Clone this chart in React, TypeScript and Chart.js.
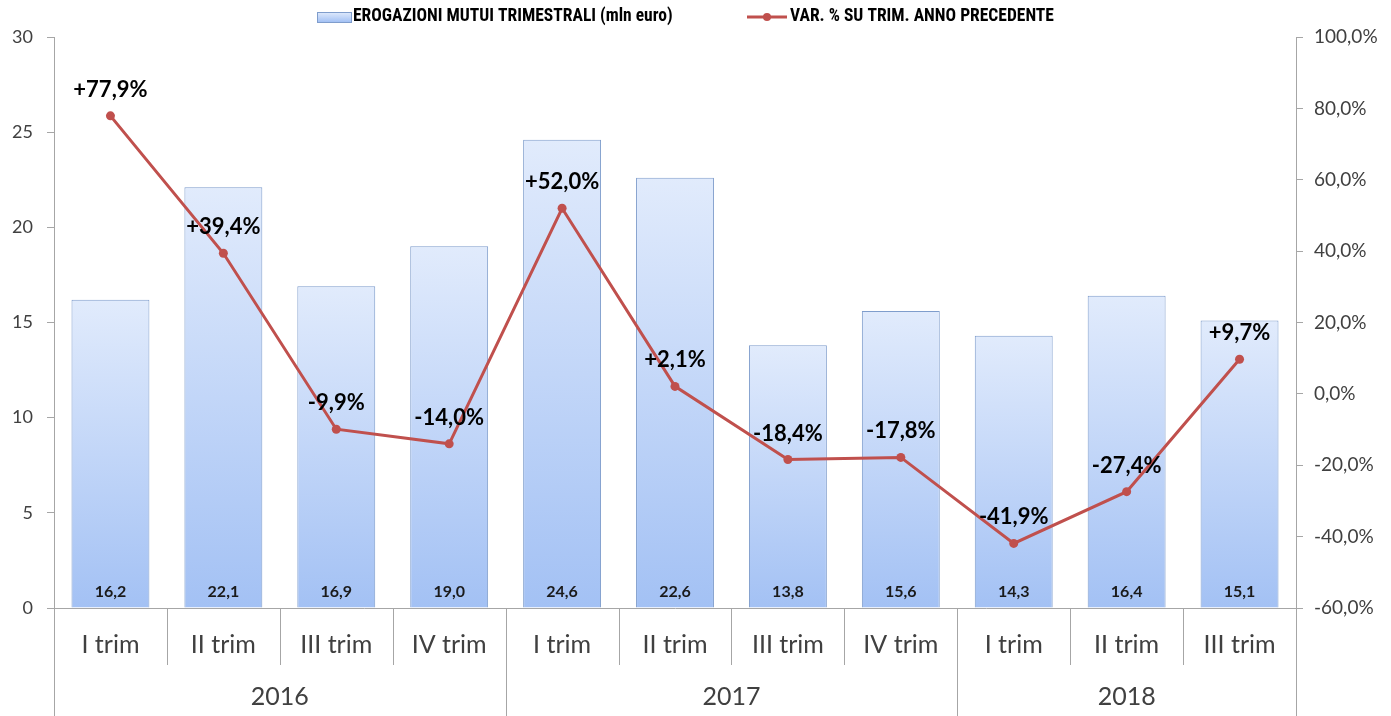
import React, { useEffect, useRef } from "react";
import { Chart, registerables } from "chart.js";

Chart.register(...registerables);

const categories = ["I trim", "II trim", "III trim", "IV trim", "I trim", "II trim", "III trim", "IV trim", "I trim", "II trim", "III trim"];
const years = ["2016", "2017", "2018"];
const yearSpans = [4, 4, 3];
const erogazioni = [16.2, 22.1, 16.9, 19.0, 24.6, 22.6, 13.8, 15.6, 14.3, 16.4, 15.1];
const variazione = [77.9, 39.4, -9.9, -14.0, 52.0, 2.1, -18.4, -17.8, -41.9, -27.4, 9.7];
const barLegend = "EROGAZIONI MUTUI TRIMESTRALI (mln euro)";
const lineLegend = "VAR. % SU TRIM. ANNO PRECEDENTE";

const FONT = "Lato, 'Open Sans', sans-serif";
const LEGEND_FONT = "'Liberation Sans Narrow', 'Roboto Condensed', Lato, sans-serif";
const RED = "#C0504D";
const AXIS = "#a6a6a6";
const TEXT = "#404040";
const BAR_TOP = "#e1ebfc";
const BAR_BOTTOM = "#a3c1f4";
const BAR_BORDER = "#7f9dcc";

const fmt = (v: number, dec = 1) => v.toFixed(dec).replace(".", ",");

const overlay = {
  id: "overlay",
  afterDraw(chart: any) {
    const { ctx, chartArea, scales } = chart;
    const x = scales.x;
    const n = categories.length;
    ctx.save();
    // bar value labels
    const barMeta = chart.getDatasetMeta(1);
    ctx.font = `bold 16px ${FONT}`;
    ctx.fillStyle = "#1a1a1a";
    ctx.textAlign = "center";
    ctx.textBaseline = "middle";
    barMeta.data.forEach((el: any, i: number) => {
      ctx.fillText(fmt(erogazioni[i]), el.x, chartArea.bottom - 16);
    });
    // line labels
    const lineMeta = chart.getDatasetMeta(0);
    ctx.font = `bold 22px ${FONT}`;
    ctx.fillStyle = "#000";
    lineMeta.data.forEach((el: any, i: number) => {
      const v = variazione[i];
      const s = (v > 0 ? "+" : "") + fmt(v) + "%";
      ctx.fillText(s, el.x, el.y - 26);
    });
    // separators
    const bounds: number[] = [];
    for (let i = 0; i <= n; i++) {
      if (i === 0) bounds.push(chartArea.left);
      else if (i === n) bounds.push(chartArea.right);
      else bounds.push((x.getPixelForValue(i - 1) + x.getPixelForValue(i)) / 2);
    }
    const yearIdx = new Set<number>([0]);
    let acc = 0;
    yearSpans.forEach((s) => { acc += s; yearIdx.add(acc); });
    ctx.strokeStyle = AXIS;
    ctx.lineWidth = 1;
    bounds.forEach((bx, i) => {
      const px = Math.round(bx) + 0.5;
      ctx.beginPath();
      ctx.moveTo(px, chartArea.bottom);
      ctx.lineTo(px, yearIdx.has(i) ? chart.height : chartArea.bottom + 57);
      ctx.stroke();
    });
    // year labels
    ctx.font = `25px ${FONT}`;
    ctx.fillStyle = TEXT;
    let start = 0;
    years.forEach((yr, k) => {
      const end = start + yearSpans[k];
      const cx = (bounds[start] + bounds[end]) / 2;
      ctx.fillText(yr, cx, 697);
      start = end;
    });
    // legend
    ctx.font = `bold 17.5px ${LEGEND_FONT}`;
    ctx.textAlign = "left";
    const ly = 17;
    let lx = 317;
    const g = ctx.createLinearGradient(0, ly - 5, 0, ly + 5);
    g.addColorStop(0, BAR_TOP);
    g.addColorStop(1, BAR_BOTTOM);
    ctx.fillStyle = g;
    ctx.fillRect(lx, ly - 5, 34, 10);
    ctx.strokeStyle = BAR_BORDER;
    ctx.lineWidth = 1;
    ctx.strokeRect(lx + 0.5, ly - 4.5, 34, 10);
    ctx.fillStyle = "#000";
    ctx.fillText(barLegend, lx + 36, ly);
    lx = 747;
    ctx.strokeStyle = RED;
    ctx.lineWidth = 3;
    ctx.beginPath();
    ctx.moveTo(lx, ly);
    ctx.lineTo(lx + 40, ly);
    ctx.stroke();
    ctx.fillStyle = RED;
    ctx.beginPath();
    ctx.arc(lx + 20, ly, 4, 0, Math.PI * 2);
    ctx.fill();
    ctx.fillStyle = "#000";
    ctx.fillText(lineLegend, lx + 43, ly);
    ctx.restore();
  },
};

export default function App() {
  const ref = useRef<HTMLCanvasElement>(null);
  useEffect(() => {
    document.body.style.margin = "0";
    const canvas = ref.current!;
    const chart = new Chart(canvas, {
      type: "bar",
      data: {
        labels: categories,
        datasets: [
          {
            type: "line",
            label: lineLegend,
            data: variazione,
            yAxisID: "y1",
            borderColor: RED,
            backgroundColor: RED,
            borderWidth: 3,
            pointRadius: 4.5,
            pointBackgroundColor: RED,
            pointBorderWidth: 0,
            order: 0,
          } as any,
          {
            type: "bar",
            label: barLegend,
            data: erogazioni,
            yAxisID: "y",
            backgroundColor: (c: any) => {
              const chart = c.chart;
              if (!chart.chartArea || c.type !== "data") return "#c5d9f7";
              const ys = chart.scales.y;
              const top = ys.getPixelForValue(c.raw);
              const bottom = ys.getPixelForValue(0);
              const g = chart.ctx.createLinearGradient(0, top, 0, bottom);
              g.addColorStop(0, BAR_TOP);
              g.addColorStop(1, BAR_BOTTOM);
              return g;
            },
            borderColor: BAR_BORDER,
            borderWidth: 1,
            categoryPercentage: 1,
            barPercentage: 0.69,
            order: 1,
          } as any,
        ],
      },
      options: {
        responsive: false,
        animation: false,
        layout: { padding: { top: 37, left: 0, right: 0, bottom: 0 } },
        plugins: { legend: { display: false }, tooltip: { enabled: false } },
        scales: {
          x: {
            grid: { display: false, drawTicks: false },
            border: { display: true, color: AXIS },
            ticks: { font: { family: FONT, size: 25 }, color: TEXT, padding: 22, maxRotation: 0, autoSkip: false },
            afterFit: (s: any) => { s.height = 108; },
          },
          y: {
            position: "left",
            min: 0,
            max: 30,
            ticks: { stepSize: 5, font: { family: FONT, size: 18 }, color: TEXT, padding: 14 },
            grid: { display: true, drawOnChartArea: false, drawTicks: true, tickLength: 7, color: AXIS },
            border: { display: true, color: AXIS },
            afterFit: (s: any) => { s.width = 54; },
          },
          y1: {
            position: "right",
            min: -60,
            max: 100,
            ticks: {
              stepSize: 20,
              font: { family: FONT, size: 19 },
              color: TEXT,
              padding: 11,
              callback: (v: any) => fmt(Number(v)) + "%",
            },
            grid: { display: true, drawOnChartArea: false, drawTicks: true, tickLength: 7, color: AXIS },
            border: { display: true, color: AXIS },
            afterFit: (s: any) => { s.width = 95; },
          },
        },
      } as any,
      plugins: [overlay],
    });
    return () => chart.destroy();
  }, []);
  return (
    <div style={{ width: 1391, height: 716 }}>
      <canvas ref={ref} width={1391} height={716} style={{ display: "block" }} />
    </div>
  );
}
